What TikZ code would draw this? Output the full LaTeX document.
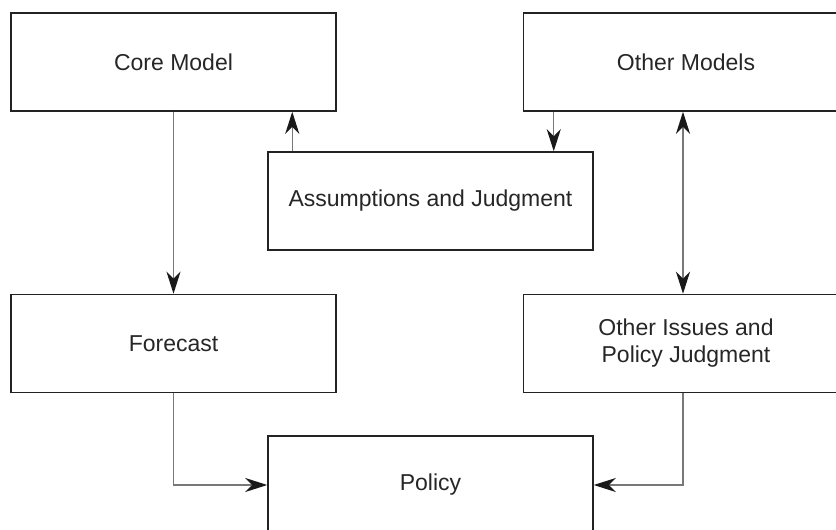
\documentclass[tikz,border=0pt]{standalone}
\usepackage{fontspec}
\setsansfont{Liberation Sans}
\usetikzlibrary{arrows.meta, positioning, calc}
\definecolor{boxline}{RGB}{35,35,35}
\definecolor{linkgray}{RGB}{120,120,120}
\definecolor{tipblack}{RGB}{25,25,25}

\begin{document}
\begin{tikzpicture}[
    x=1pt, y=1pt,
    node distance = 182pt and 186pt,
    box/.style    = {draw=boxline, line width=1.5pt, minimum width=325pt,
                     minimum height=98pt, align=center, inner sep=0pt,
                     font=\fontsize{23}{27}\selectfont\sffamily,
                     text=black!85},
    tip/.tip      = {Stealth[length=22pt, width=14pt, inset=7pt,
                     color=tipblack, fill=tipblack]},
    arrow/.style  = {-tip, line width=1.3pt, color=linkgray},
    dbl/.style    = {tip-tip, line width=1.3pt, color=linkgray}
  ]
  \useasboundingbox (0,0) rectangle (836,-530);
  \clip (0,0) rectangle (836,-530);

  \node[box] (core)   at (173.5,-62) {Core Model};
  \node[box, right=of core]  (others) {Other Models};
  \node[box, below=of core]  (fcast)  {Forecast};
  \node[box, below=of others] (issues) {Other Issues and\\Policy Judgment};
  \node[box] (assump) at (430.5,-201) {Assumptions and Judgment};
  \node[box] (policy) at (430.5,-485) {Policy};

  % side links between the top row and the middle box
  \coordinate (upfoot) at ($(assump.north west)+(25,0)$);
  \coordinate (dnhead) at ($(others.south west)+(31,0)$);

  \draw[arrow] (core)  -- (fcast);
  \draw[arrow] (upfoot) -- (upfoot |- core.south);
  \draw[arrow] (dnhead) -- (dnhead |- assump.north);
  \draw[dbl]   (others.south -| 683,0) -- (issues.north -| 683,0);
  \draw[arrow] (fcast)  |- (policy.west);
  \draw[arrow] (issues.south -| 683,0) |- (policy.east);
\end{tikzpicture}
\end{document}
